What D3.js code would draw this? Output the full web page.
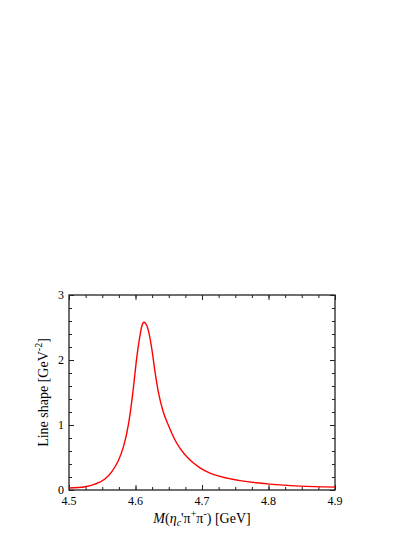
<!DOCTYPE html>
<html>
<head>
<meta charset="utf-8">
<script src="https://cdn.jsdelivr.net/npm/d3@7"></script>
<style>
  body { margin: 0; background: #fff; }
  svg text { font-family: "Times New Roman", "Liberation Serif", "DejaVu Serif", serif; fill: #000; }
</style>
</head>
<body>
<svg id="chart"></svg>
<script>
// invariant mass (GeV) and line shape (GeV^-2)
let mass = [4.500, 4.524, 4.539, 4.554, 4.5642, 4.5741, 4.5817, 4.5868, 4.5917, 4.5967,
            4.6018, 4.6068, 4.6095, 4.6128, 4.6160, 4.6192, 4.6244, 4.6293, 4.6343, 4.6418,
            4.6493, 4.6594, 4.667, 4.682, 4.697, 4.712, 4.727, 4.741, 4.757, 4.802,
            4.847, 4.900];
let shape = [0.03, 0.05, 0.09, 0.17, 0.28, 0.45, 0.66, 0.87, 1.16, 1.56,
             2.03, 2.38, 2.52, 2.58, 2.55, 2.46, 2.18, 1.82, 1.51, 1.20,
             1.00, 0.77, 0.64, 0.46, 0.34, 0.26, 0.21, 0.175, 0.145, 0.09,
             0.06, 0.045];

let xTicks = [4.5, 4.6, 4.7, 4.8, 4.9];
let yTicks = [0, 1, 2, 3];

function drawChart() {
    let w = 415, h = 537;
    let left = 69, right = 335, top = 295, bottom = 490;

    let svg = d3.select("#chart")
        .attr("width", w)
        .attr("height", h);

    let x = d3.scaleLinear().domain([4.5, 4.9]).range([left, right]);
    let y = d3.scaleLinear().domain([0, 3]).range([bottom, top]);

    let xMinor = d3.range(4.5, 4.9001, 0.025);
    let yMinor = d3.range(0, 3.001, 0.2);

    // ticks point inward on all four sides
    function ticks(axisFn, scale, major, minor, tr) {
        let g = svg.append("g").attr("transform", tr);
        g.call(axisFn(scale).tickValues(minor).tickSize(-3).tickFormat(""));
        g.append("g").call(axisFn(scale).tickValues(major).tickSize(-5).tickFormat(""));
        g.selectAll(".domain").remove();
        g.selectAll("line").attr("stroke", "#222").attr("stroke-width", 1);
        return g;
    }
    ticks(d3.axisBottom, x, xTicks, xMinor, `translate(0,${bottom})`);
    ticks(d3.axisTop, x, xTicks, xMinor, `translate(0,${top})`);
    ticks(d3.axisLeft, y, yTicks, yMinor, `translate(${left},0)`);
    ticks(d3.axisRight, y, yTicks, yMinor, `translate(${right},0)`);

    svg.append("rect")
        .attr("x", left).attr("y", top)
        .attr("width", right - left).attr("height", bottom - top)
        .attr("fill", "none")
        .attr("stroke", "#222")
        .attr("stroke-width", 1.3);

    svg.append("g").selectAll("text")
        .data(xTicks)
        .enter().append("text")
        .attr("x", d => x(d))
        .attr("y", bottom + 15)
        .attr("text-anchor", "middle")
        .attr("font-size", 12)
        .text(d => d.toFixed(1));

    svg.append("g").selectAll("text")
        .data(yTicks)
        .enter().append("text")
        .attr("x", left - 5)
        .attr("y", d => y(d) + 4)
        .attr("text-anchor", "end")
        .attr("font-size", 12)
        .text(d => d);

    let line = d3.line()
        .x((d, i) => x(mass[i]))
        .y(d => y(d))
        .curve(d3.curveMonotoneX);

    svg.append("path")
        .datum(shape)
        .attr("fill", "none")
        .attr("stroke", "#ff0000")
        .attr("stroke-width", 1.4)
        .attr("d", line);

    // x label: M(eta_c' pi+ pi-) [GeV]
    let xl = svg.append("text")
        .attr("x", (left + right) / 2)
        .attr("y", 523)
        .attr("text-anchor", "middle")
        .attr("font-size", 14);
    xl.append("tspan").attr("font-style", "italic").text("M");
    xl.append("tspan").text("(");
    xl.append("tspan").attr("font-style", "italic").text("η");
    xl.append("tspan").attr("font-style", "italic").attr("font-size", 10).attr("dy", 3).text("c");
    xl.append("tspan").attr("dy", -3).text("'π");
    xl.append("tspan").attr("font-size", 10).attr("dy", -6).text("+");
    xl.append("tspan").attr("dy", 6).text("π");
    xl.append("tspan").attr("font-size", 10).attr("dy", -6).text("-");
    xl.append("tspan").attr("dy", 6).text(") [GeV]");

    // y label
    let yl = svg.append("text")
        .attr("transform", `translate(48,${(top + bottom) / 2}) rotate(-90)`)
        .attr("text-anchor", "middle")
        .attr("font-size", 14);
    yl.append("tspan").text("Line shape [GeV");
    yl.append("tspan").attr("font-size", 10).attr("dy", -6).text("-2");
    yl.append("tspan").attr("dy", 6).text("]");
}

window.onload = function() {
    drawChart();
}
</script>
</body>
</html>
